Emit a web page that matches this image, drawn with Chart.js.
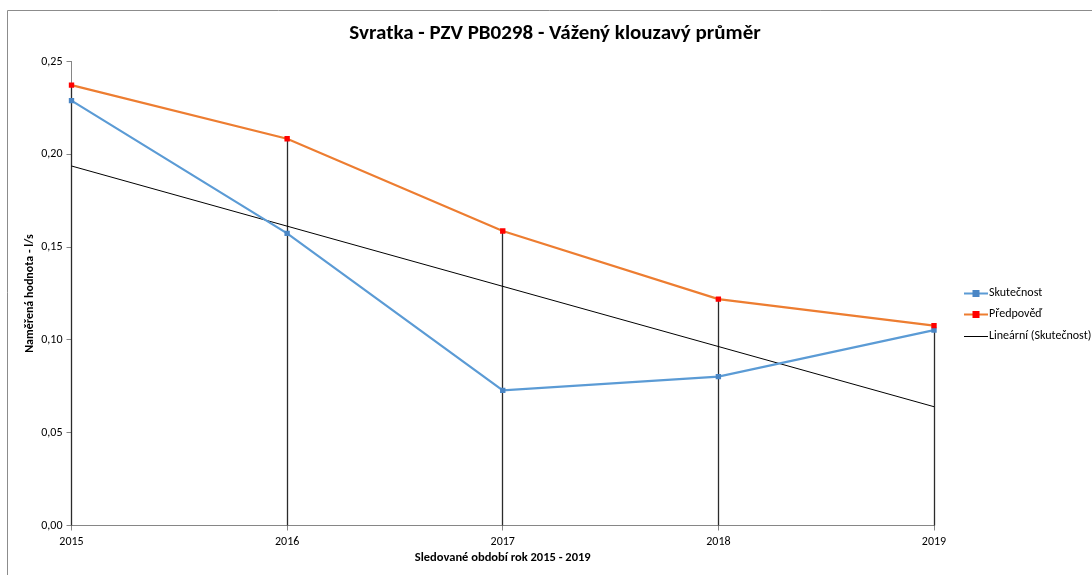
<!DOCTYPE html>
<html>
<head>
<meta charset="utf-8">
<script src="https://cdn.jsdelivr.net/npm/chart.js@4"></script>
<style>
  html, body { margin: 0; padding: 0; background: #fff; overflow: hidden; }
  #wrap { position: absolute; left: 0; top: 0; width: 1092px; height: 575px; }
</style>
</head>
<body>
<div id="wrap"><canvas id="c" width="1092" height="575"></canvas></div>
<script>
const chartTitle = 'Svratka - PZV PB0298 - Vážený klouzavý průměr';
const xAxisTitle = 'Sledované období rok 2015 - 2019';
const yAxisTitle = 'Naměřená hodnota - l/s';
const years = ['2015', '2016', '2017', '2018', '2019'];
const skutecnost = [0.2289, 0.1574, 0.0728, 0.0802, 0.1053];
const predpoved = [0.2373, 0.2084, 0.1587, 0.1220, 0.1077];
const trendLinear = [0.1937, null, null, null, 0.0640];
const seriesNames = ['Skutečnost', 'Předpověď', 'Lineární (Skutečnost)'];
const yMin = 0, yMax = 0.25, yStep = 0.05;

const FONT = "Carlito, Calibri, Lato, 'Liberation Sans', sans-serif";

const frameAndTitle = {
  id: 'frameAndTitle',
  beforeDraw(chart) {
    const ctx = chart.ctx;
    ctx.save();
    ctx.strokeStyle = '#8c8c8c';
    ctx.lineWidth = 1;
    ctx.beginPath();
    ctx.moveTo(7.5, 575);
    ctx.lineTo(7.5, 10.5);
    ctx.lineTo(1092, 10.5);
    ctx.stroke();
    ctx.fillStyle = '#000';
    ctx.font = 'bold 21px ' + FONT;
    ctx.textAlign = 'center';
    ctx.textBaseline = 'middle';
    ctx.fillText(chartTitle, 555, 34);
    ctx.restore();
  }
};

const dropLines = {
  id: 'dropLines',
  beforeDatasetsDraw(chart) {
    const ctx = chart.ctx;
    const x = chart.scales.x, y = chart.scales.y;
    ctx.save();
    ctx.strokeStyle = '#2b2b2b';
    ctx.lineWidth = 1.3;
    years.forEach((yr, i) => {
      const top = Math.max(skutecnost[i], predpoved[i]);
      const px = Math.floor(x.getPixelForValue(i)) + 0.5;
      ctx.beginPath();
      ctx.moveTo(px, y.getPixelForValue(top));
      ctx.lineTo(px, y.getPixelForValue(yMin));
      ctx.stroke();
    });
    ctx.restore();
  }
};

const customLegend = {
  id: 'customLegend',
  afterDraw(chart) {
    const ctx = chart.ctx;
    const items = [
      { name: seriesNames[0], line: '#5b9bd5', point: '#4a86c5', lw: 2 },
      { name: seriesNames[1], line: '#ed7d31', point: '#ff0000', lw: 2 },
      { name: seriesNames[2], line: '#000000', point: null, lw: 1 }
    ];
    const x0 = 964, x1 = 988, ys = [293, 314, 336];
    ctx.save();
    ctx.font = '12px ' + FONT;
    ctx.textBaseline = 'middle';
    ctx.textAlign = 'left';
    items.forEach((it, i) => {
      const yy = ys[i] + 0.5;
      ctx.strokeStyle = it.line;
      ctx.lineWidth = it.lw;
      ctx.beginPath();
      ctx.moveTo(x0, yy);
      ctx.lineTo(x1, yy);
      ctx.stroke();
      if (it.point) {
        ctx.fillStyle = it.point;
        ctx.fillRect((x0 + x1) / 2 - 3.5, yy - 3.5, 7, 7);
      }
      ctx.fillStyle = '#000';
      ctx.fillText(it.name, x1 + 1, ys[i]);
    });
    ctx.restore();
  }
};

new Chart(document.getElementById('c'), {
  type: 'line',
  data: {
    labels: years,
    datasets: [
      {
        label: seriesNames[0],
        data: skutecnost,
        borderColor: '#5b9bd5',
        backgroundColor: '#4a86c5',
        borderWidth: 2.2,
        pointStyle: 'rect',
        pointRadius: 3.8,
        pointBorderWidth: 0,
        pointBackgroundColor: '#4a86c5',
        tension: 0,
        order: 2
      },
      {
        label: seriesNames[1],
        data: predpoved,
        borderColor: '#ed7d31',
        backgroundColor: '#ff0000',
        borderWidth: 2.2,
        pointStyle: 'rect',
        pointRadius: 3.8,
        pointBorderWidth: 0,
        pointBackgroundColor: '#ff0000',
        tension: 0,
        order: 1
      },
      {
        label: seriesNames[2],
        data: trendLinear,
        borderColor: '#000000',
        borderWidth: 1,
        pointRadius: 0,
        spanGaps: true,
        tension: 0,
        order: 3
      }
    ]
  },
  options: {
    responsive: false,
    animation: false,
    events: [],
    layout: { padding: { left: 0, top: 61.5, right: 158, bottom: 0 } },
    plugins: {
      legend: { display: false },
      title: { display: false },
      tooltip: { enabled: false }
    },
    scales: {
      x: {
        type: 'category',
        offset: false,
        afterFit(s) { s.height = 49.5; },
        grid: {
          display: true,
          drawOnChartArea: false,
          drawTicks: true,
          tickLength: 5,
          color: '#868686',
          lineWidth: 1
        },
        border: { display: true, color: '#868686', width: 1 },
        ticks: {
          color: '#000',
          font: { family: FONT, size: 12 },
          padding: 4,
          maxRotation: 0,
          autoSkip: false
        },
        title: {
          display: true,
          text: xAxisTitle,
          color: '#000',
          font: { family: FONT, size: 12.5, weight: 'bold' },
          padding: { top: 0, bottom: 9.5 }
        }
      },
      y: {
        min: yMin,
        max: yMax,
        afterFit(s) { s.width = 71.5; },
        grid: {
          display: true,
          drawOnChartArea: false,
          drawTicks: true,
          tickLength: 5,
          color: '#868686',
          lineWidth: 1
        },
        border: { display: true, color: '#868686', width: 1 },
        ticks: {
          stepSize: yStep,
          color: '#000',
          font: { family: FONT, size: 12 },
          padding: 4,
          callback: v => v.toFixed(2).replace('.', ',')
        },
        title: {
          display: true,
          text: yAxisTitle,
          color: '#000',
          font: { family: FONT, size: 12, weight: 'bold' },
          padding: { top: 23, bottom: 0 }
        }
      }
    }
  },
  plugins: [frameAndTitle, dropLines, customLegend]
});
</script>
</body>
</html>
